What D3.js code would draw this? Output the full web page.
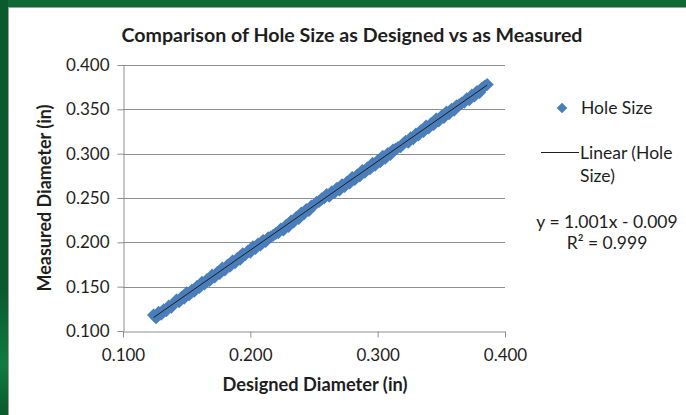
<!DOCTYPE html>
<html>
<head>
<meta charset="utf-8">
<script src="https://cdn.jsdelivr.net/npm/d3@7"></script>
<style>
  html, body { margin: 0; padding: 0; background: #fff; }
  svg { display: block; font-family: Lato, "Open Sans", sans-serif; }
</style>
</head>
<body>
<svg id="chart" width="686" height="415"></svg>
<script>
// values
const designed = [0.124, 0.126, 0.128, 0.130, 0.132, 0.134, 0.136, 0.138, 0.140, 0.142,
  0.144, 0.146, 0.148, 0.150, 0.152, 0.154, 0.156, 0.158, 0.160, 0.162,
  0.164, 0.166, 0.168, 0.170, 0.172, 0.174, 0.176, 0.178, 0.180, 0.182,
  0.184, 0.186, 0.188, 0.190, 0.192, 0.194, 0.196, 0.198, 0.200, 0.202,
  0.204, 0.206, 0.208, 0.210, 0.212, 0.214, 0.216, 0.218, 0.220, 0.222,
  0.224, 0.226, 0.228, 0.230, 0.232, 0.234, 0.236, 0.238, 0.240, 0.242,
  0.244, 0.246, 0.248, 0.250, 0.252, 0.254, 0.256, 0.258, 0.260, 0.262,
  0.264, 0.266, 0.268, 0.270, 0.272, 0.274, 0.276, 0.278, 0.280, 0.282,
  0.284, 0.286, 0.288, 0.290, 0.292, 0.294, 0.296, 0.298, 0.300, 0.302,
  0.304, 0.306, 0.308, 0.310, 0.312, 0.314, 0.316, 0.318, 0.320, 0.322,
  0.324, 0.326, 0.328, 0.330, 0.332, 0.334, 0.336, 0.338, 0.340, 0.342,
  0.344, 0.346, 0.348, 0.350, 0.352, 0.354, 0.356, 0.358, 0.360, 0.362,
  0.364, 0.366, 0.368, 0.370, 0.372, 0.374, 0.376, 0.378, 0.380, 0.382,
  0.384, 0.386];
const measured = [0.118, 0.115, 0.121, 0.119, 0.124, 0.123, 0.128, 0.127, 0.131, 0.135,
  0.133, 0.138, 0.137, 0.143, 0.141, 0.146, 0.145, 0.150, 0.149, 0.155,
  0.153, 0.158, 0.157, 0.163, 0.161, 0.166, 0.165, 0.171, 0.169, 0.174,
  0.173, 0.179, 0.177, 0.182, 0.181, 0.187, 0.186, 0.190, 0.189, 0.195,
  0.193, 0.198, 0.197, 0.202, 0.201, 0.205, 0.206, 0.208, 0.210, 0.211,
  0.215, 0.214, 0.219, 0.218, 0.224, 0.223, 0.228, 0.227, 0.233, 0.232,
  0.237, 0.236, 0.241, 0.242, 0.245, 0.246, 0.249, 0.250, 0.254, 0.252,
  0.257, 0.256, 0.261, 0.259, 0.265, 0.263, 0.268, 0.267, 0.273, 0.271,
  0.276, 0.275, 0.281, 0.279, 0.284, 0.283, 0.289, 0.287, 0.292, 0.291,
  0.297, 0.295, 0.300, 0.299, 0.304, 0.305, 0.307, 0.308, 0.311, 0.314,
  0.313, 0.318, 0.317, 0.322, 0.321, 0.326, 0.325, 0.331, 0.329, 0.334,
  0.333, 0.339, 0.337, 0.342, 0.341, 0.347, 0.345, 0.350, 0.349, 0.354,
  0.355, 0.357, 0.358, 0.362, 0.361, 0.366, 0.365, 0.370, 0.369, 0.374,
  0.376, 0.378];
const trendSlope = 1.001;
const trendIntercept = -0.009;
const xTicks = [0.1, 0.2, 0.3, 0.4];
const yTicks = [0.1, 0.15, 0.2, 0.25, 0.3, 0.35, 0.4];

const svg = d3.select("#chart");
const blue = "#4a7ebb";
const gridColor = "#8f8f8f";
const ink = "#1e1e1e";

// green frame of the slide
const defs = svg.append("defs");
const g1 = defs.append("linearGradient").attr("id", "green").attr("x1", 0).attr("y1", 0).attr("x2", 0).attr("y2", 1);
g1.append("stop").attr("offset", "0%").attr("stop-color", "#0b5a2c");
g1.append("stop").attr("offset", "70%").attr("stop-color", "#0a5a2d");
g1.append("stop").attr("offset", "88%").attr("stop-color", "#127a40");
g1.append("stop").attr("offset", "100%").attr("stop-color", "#0a5a2c");
svg.append("rect").attr("x", 0).attr("y", 0).attr("width", 686).attr("height", 7).attr("fill", "#0e6a34");
svg.append("rect").attr("x", 0).attr("y", 0).attr("width", 8).attr("height", 415).attr("fill", "url(#green)");
svg.append("line").attr("x1", 8).attr("x2", 686).attr("y1", 7.5).attr("y2", 7.5).attr("stroke", "#a0a0a0");
svg.append("line").attr("x1", 8.5).attr("x2", 8.5).attr("y1", 7).attr("y2", 415).attr("stroke", "#a0a0a0");

const x = d3.scaleLinear().domain([0.1, 0.4]).range([123, 505]);
const y = d3.scaleLinear().domain([0.1, 0.4]).range([331, 65]);

// gridlines
svg.append("g").selectAll("line").data(yTicks.slice(1)).enter().append("line")
  .attr("x1", x(0.1)).attr("x2", x(0.4))
  .attr("y1", d => Math.round(y(d)) + 0.5).attr("y2", d => Math.round(y(d)) + 0.5)
  .attr("stroke", gridColor).attr("stroke-width", 1);

// axes
const xAxis = svg.append("g").attr("transform", `translate(0,${Math.round(y(0.1)) + 0.5})`)
  .call(d3.axisBottom(x).tickValues(xTicks).tickFormat(d3.format(".3f")).tickSizeInner(6).tickSizeOuter(0).tickPadding(8));
const yAxis = svg.append("g").attr("transform", `translate(${x(0.1) + 0.5},0)`)
  .call(d3.axisLeft(y).tickValues(yTicks).tickFormat(d3.format(".3f")).tickSizeInner(6).tickSizeOuter(0).tickPadding(8));
[xAxis, yAxis].forEach(a => {
  a.select(".domain").attr("stroke", gridColor);
  a.selectAll(".tick line").attr("stroke", gridColor);
  a.selectAll(".tick text").attr("fill", ink).style("font-size", "17px").style("font-family", "Lato");
});
xAxis.selectAll(".tick text").attr("dy", "0.9em");

// points (diamonds)
const diamond = d3.symbol().type(d3.symbolDiamond2).size(110);
svg.append("g").selectAll("path").data(designed).enter().append("path")
  .attr("d", diamond)
  .attr("transform", (d, i) => `translate(${x(d)},${y(measured[i])})`)
  .attr("fill", blue);

// linear trendline
const xMin = d3.min(designed), xMax = d3.max(designed);
svg.append("line")
  .attr("x1", x(xMin)).attr("y1", y(trendSlope * xMin + trendIntercept))
  .attr("x2", x(xMax)).attr("y2", y(trendSlope * xMax + trendIntercept))
  .attr("stroke", ink).attr("stroke-width", 1);

// titles
svg.append("text").attr("x", 352).attr("y", 42).attr("text-anchor", "middle")
  .style("font-size", "19px").style("font-weight", "bold").attr("fill", ink)
  .attr("textLength", 461).attr("lengthAdjust", "spacingAndGlyphs")
  .text("Comparison of Hole Size as Designed vs as Measured");
svg.append("text").attr("x", 315).attr("y", 391).attr("text-anchor", "middle")
  .style("font-size", "18px").style("font-weight", "bold").attr("fill", ink)
  .attr("textLength", 185).attr("lengthAdjust", "spacingAndGlyphs")
  .text("Designed Diameter (in)");
svg.append("text").attr("transform", "translate(51,198) rotate(-90)").attr("text-anchor", "middle")
  .style("font-size", "18px").style("font-weight", "bold").attr("fill", ink)
  .attr("textLength", 187).attr("lengthAdjust", "spacingAndGlyphs")
  .text("Measured Diameter (in)");

// legend
const leg = svg.append("g").style("font-size", "17.5px").attr("fill", ink);
leg.append("path").attr("d", d3.symbol().type(d3.symbolDiamond2).size(72)).attr("transform", "translate(562,108)").attr("fill", blue);
leg.append("text").attr("x", 581).attr("y", 114).text("Hole Size");
leg.append("line").attr("x1", 541).attr("x2", 579).attr("y1", 152.5).attr("y2", 152.5).attr("stroke", ink);
leg.append("text").attr("x", 580).attr("y", 159).text("Linear (Hole");
leg.append("text").attr("x", 580).attr("y", 182).text("Size)");
leg.append("text").attr("x", 607).attr("y", 228).attr("text-anchor", "middle").text("y = 1.001x - 0.009");
leg.append("text").attr("x", 607).attr("y", 249).attr("text-anchor", "middle").text("R² = 0.999");
</script>
</body>
</html>
